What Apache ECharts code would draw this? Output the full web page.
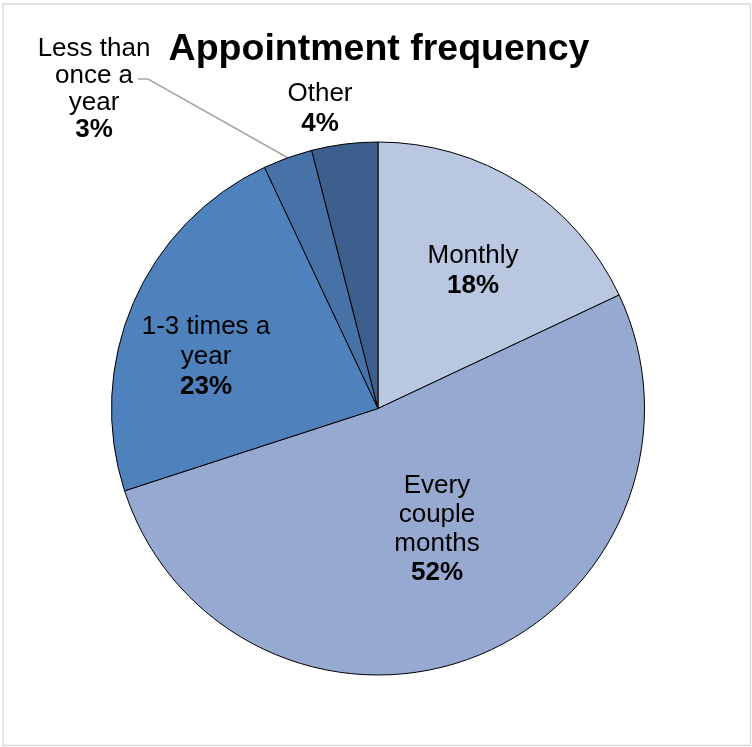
<!DOCTYPE html>
<html>
<head>
<meta charset="utf-8">
<style>
  html, body { margin: 0; padding: 0; background: #ffffff; }
  #chart { width: 752px; height: 747px; }
</style>
<script src="https://cdn.jsdelivr.net/npm/echarts@6/dist/echarts.min.js"></script>
</head>
<body>
<div id="chart"></div>
<script>
// Survey answers: how often people book an appointment (percent of respondents)
const categories = ['Monthly', 'Every couple months', '1-3 times a year', 'Less than once a year', 'Other'];
const shares = [18, 52, 23, 3, 4];

// How each category name is wrapped inside its label
const labelLines = ['Monthly', 'Every\ncouple\nmonths', '1-3 times a\nyear', 'Less than\nonce a\nyear', 'Other'];

// Slice fills, light to dark blue
const sliceColors = ['#B9C7E1', '#95A9D1', '#4F81BD', '#4672A8', '#3D5F8D'];

// Label block centres (pixels) and line spacing per label
const labelSpots = [[473, 271], [437, 529], [206, 357], [94, 89], [320, 109]];
const labelLineHeights = [30, 29, 30, 27, 30];

// Elbow of the leader line for the small slice that is labelled outside
const leaderElbow = [[148, 79], [138, 79]];

const chart = echarts.init(document.getElementById('chart'), null, { renderer: 'canvas' });

const font = '"Liberation Sans", Arial, Helvetica, sans-serif';

const data = categories.map((name, i) => ({
  name: name,
  value: shares[i],
  itemStyle: { color: sliceColors[i] },
  label: {
    rich: {
      n: { fontSize: 26, fontFamily: font, color: '#000', lineHeight: labelLineHeights[i], align: 'center' },
      p: { fontSize: 26, fontFamily: font, color: '#000', fontWeight: 'bold', lineHeight: labelLineHeights[i], align: 'center' }
    }
  },
  labelLine: { show: name === 'Less than once a year' }
}));

chart.setOption({
  animation: false,
  backgroundColor: '#ffffff',
  title: {
    text: 'Appointment frequency',
    left: 374,
    textAlign: 'center',
    top: 26,
    textStyle: { fontFamily: font, fontSize: 37.5, fontWeight: 'bold', color: '#000' }
  },
  graphic: [{
    type: 'rect',
    shape: { x: 3, y: 4, width: 747.5, height: 741.5 },
    style: { fill: 'none', stroke: '#D9D9D9', lineWidth: 1.5 },
    silent: true,
    z: -1
  }],
  series: [{
    type: 'pie',
    center: [378, 408.5],
    radius: [0, 266.5],
    startAngle: 90,
    clockwise: true,
    avoidLabelOverlap: false,
    itemStyle: { borderColor: '#000', borderWidth: 1 },
    label: {
      show: true,
      position: 'outside',
      formatter: (p) => `{n|${labelLines[p.dataIndex]}}\n{p|${p.value}%}`,
      align: 'center'
    },
    labelLine: {
      show: false,
      lineStyle: { color: '#A6A6A6', width: 1.5 }
    },
    labelLayout: (params) => {
      const spot = labelSpots[params.dataIndex];
      const out = { x: spot[0], y: spot[1], align: 'center', verticalAlign: 'middle' };
      if (categories[params.dataIndex] === 'Less than once a year' && params.labelLinePoints) {
        out.labelLinePoints = [params.labelLinePoints[0], leaderElbow[0], leaderElbow[1]];
      }
      return out;
    },
    data: data
  }]
});
</script>
</body>
</html>
